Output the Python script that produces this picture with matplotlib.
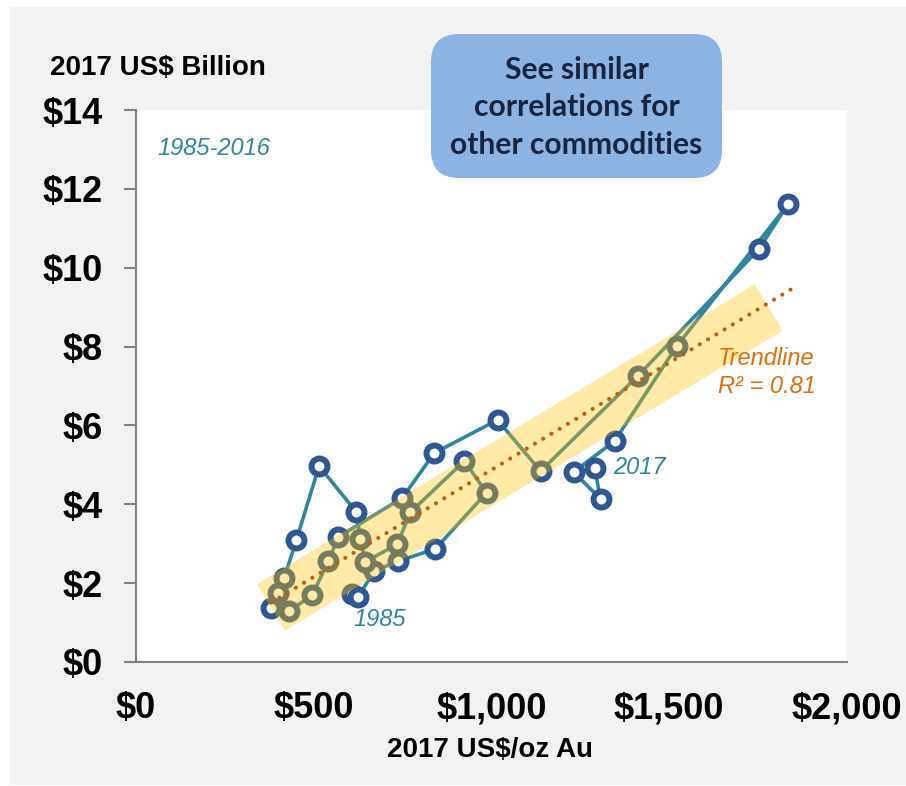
import matplotlib
matplotlib.use("Agg")
import matplotlib.pyplot as plt
import numpy as np
from matplotlib.patches import Rectangle, FancyBboxPatch

plt.rcParams['font.family'] = ['Liberation Sans', 'DejaVu Sans']

# gold price (2017 US$/oz) vs. value of output (2017 US$ billion), 1985-2017
years = list(range(1985, 2018))
gold_price = [608, 625, 670, 738, 842, 986, 924, 772, 735, 645, 631,
              620, 515, 451, 417, 400, 380, 431, 496, 541, 569,
              749, 839, 1017, 1138, 1411, 1752, 1834, 1521, 1346, 1231, 1307, 1290]
output_value = [1.72, 1.65, 2.31, 2.56, 2.87, 4.29, 5.10, 3.80, 2.99, 2.54, 3.12,
                3.80, 4.97, 3.09, 2.13, 1.75, 1.37, 1.29, 1.70, 2.56, 3.17,
                4.16, 5.30, 6.14, 4.84, 7.25, 10.47, 11.61, 8.01, 5.60, 4.82, 4.13, 4.92]

x_ticks = [0, 500, 1000, 1500, 2000]
x_labels = ['$0', '$500', '$1,000', '$1,500', '$2,000']
y_ticks = [0, 2, 4, 6, 8, 10, 12, 14]
y_labels = ['$0', '$2', '$4', '$6', '$8', '$10', '$12', '$14']

band_range = [380, 1780]

x = np.array(gold_price, dtype=float)
y = np.array(output_value, dtype=float)

fig = plt.figure(figsize=(9.06, 7.86), dpi=100)
fig.patch.set_facecolor('white')
fig.patches.append(Rectangle((10 / 906, 1 / 786), 1, 778 / 786, transform=fig.transFigure,
                             facecolor='#f2f2f2', edgecolor='none', zorder=-10))

ax = fig.add_axes([136 / 906, 1 - 662 / 786, 711 / 906, 552 / 786])
ax.set_facecolor('white')

teal = '#31859c'
navy = '#2f5891'
ax.plot(x, y, color=teal, lw=2.6, marker='o', ms=11.5, mew=4.3,
        mec=navy, mfc='white', zorder=2)

# least-squares trend
slope, icpt = np.polyfit(x, y, 1)

bx = np.array(band_range, dtype=float)
ax.plot(bx, slope * bx + icpt - 0.12, color='#ffc000', alpha=0.35, lw=39,
        solid_capstyle='butt', zorder=3)

tx = np.array([x.min(), x.max() + 15])
ax.plot(tx, slope * tx + icpt, color='#c0600e', lw=3, dashes=(0.01, 2.3),
        dash_capstyle='round', zorder=4)

ax.set_xlim(0, 2000)
ax.set_ylim(0, 14)
ax.set_xticks(x_ticks)
ax.set_xticklabels(x_labels)
ax.set_yticks(y_ticks)
ax.set_yticklabels(y_labels)
for s in ['top', 'right']:
    ax.spines[s].set_visible(False)
for s in ['left', 'bottom']:
    ax.spines[s].set_color('#808080')
    ax.spines[s].set_linewidth(1.5)
ax.tick_params(axis='y', direction='out', length=8.6, width=1.5, color='#808080', pad=15)
ax.tick_params(axis='x', length=0, pad=21)
for lab in ax.get_xticklabels() + ax.get_yticklabels():
    lab.set_fontsize(26)
    lab.set_fontweight('bold')

ax.text(0.0295, 0.931, '1985-2016', transform=ax.transAxes, color=teal,
        style='italic', fontsize=17, ha='left', va='center')
ax.annotate('1985', (x[0], y[0]), xytext=(0.7, -18), textcoords='offset points',
            color=teal, style='italic', fontsize=17, ha='left', va='center')
ax.annotate('2017', (x[-1], y[-1]), xytext=(13.7, 0.7), textcoords='offset points',
            color=teal, style='italic', fontsize=17, ha='left', va='center')
ax.text(0.8186, 0.5507, 'Trendline', transform=ax.transAxes, color='#e46c0a',
        style='italic', fontsize=17, ha='left', va='center')
ax.text(0.8186, 0.4982, 'R\u00b2 = 0.81', transform=ax.transAxes, color='#e46c0a',
        style='italic', fontsize=17, ha='left', va='center')

fig.text(50 / 906, 1 - 68 / 786, '2017 US$ Billion', fontsize=20, fontweight='bold',
         ha='left', va='center')
fig.text(490 / 906, 1 - 750 / 786, '2017 US$/oz Au', fontsize=20, fontweight='bold',
         ha='center', va='center')

# callout box
box = FancyBboxPatch((4.31, 6.08), 2.91, 1.44, boxstyle='round,pad=0,rounding_size=0.28',
                     transform=fig.dpi_scale_trans, facecolor='#8db3e2', edgecolor='none',
                     zorder=5)
fig.patches.append(box)
for line, yc in zip(['See similar', 'correlations for', 'other commodities'], [70, 107, 145]):
    fig.text(576.5 / 906, 1 - yc / 786, line, fontsize=21.6, fontweight='bold',
             family=['Lato', 'DejaVu Sans'], color='#17243f', ha='center', va='center', zorder=6)

fig.savefig('out.png', dpi=100, facecolor=fig.get_facecolor())
